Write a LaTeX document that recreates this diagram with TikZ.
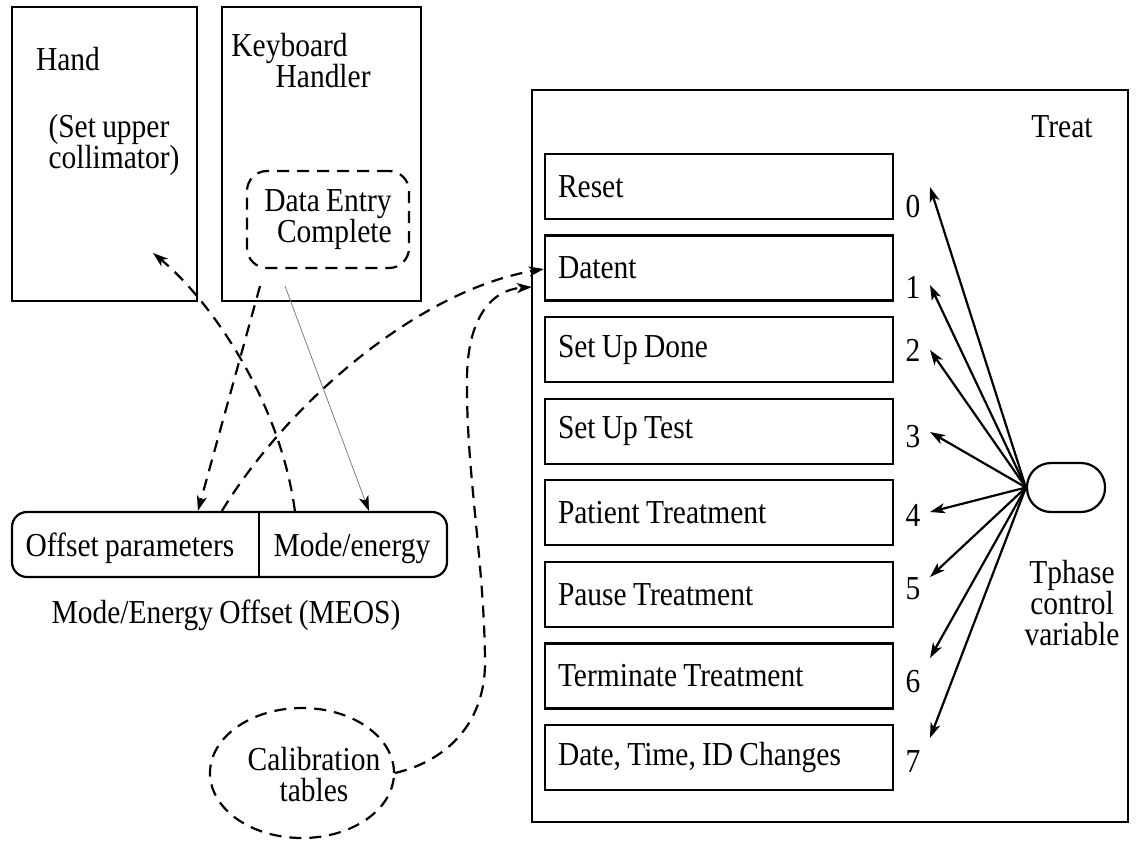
\documentclass[tikz,border=0pt]{standalone}
\usepackage{fontspec}
\setmainfont{Liberation Serif}[FakeStretch=0.88, WordSpace={0.85,0,0}]
\usetikzlibrary{shapes.geometric,arrows.meta}
\newcommand{\itemtext}[1]{\makebox[322pt][l]{#1}}

\begin{document}
\begin{tikzpicture}[x=1pt, y=1pt, line width=2.2pt, >={Stealth[length=15pt,width=10pt,inset=4pt]},
	every node/.style={inner sep=0pt, font=\fontsize{33.5}{31}\selectfont},
	dashline/.style={dashed, dash pattern=on 12pt off 8pt},
	itembox/.style={draw, minimum width=348, minimum height=65, inner xsep=13pt}]
	\useasboundingbox (0,0) rectangle (1139,-840);

	\node (hand) at (104.5,-154) [draw, minimum width=185, minimum height=294] {};
	\node (handlbl) at (68,-59) {Hand};
	\node (handnote) at (114,-145) [align=left] {(Set upper\\collimator)};
	\coordinate (handtip) at (153,-253);

	\node (kbd) at (321.5,-154) [draw, minimum width=199, minimum height=294] {};
	\node (kbdlbl) at (301,-61) [align=left] {Keyboard\\\hspace*{1.32em}Handler};
	\node (dataent) at (328,-219.5) [draw, dashline, rounded corners=20, minimum width=162, minimum height=97, align=right] {Data Entry\\Complete};

	\node (meos) at (229.5,-544.5) [draw, rounded corners=15, minimum width=435, minimum height=65] {};
	\coordinate (split) at (259,-512);
	\draw (split) -- (split |- meos.south);
	\node (offsetpar) at (130,-548) {Offset parameters};
	\node (modeen) at (352,-548) {Mode/energy};
	\node (meoslbl) at (226,-615) {Mode/Energy Offset (MEOS)};

	\node (calib) at (302,-773) [draw, dashline, ellipse, minimum width=184, minimum height=130] {};
	\node (caliblbl) at (314,-775) [align=center] {Calibration\\tables};

	\node (treat) at (830,-456) [draw, minimum width=596, minimum height=732] {};
	\node (treatlbl) at (1062,-127) {Treat};

	\node (reset) at (719,-186.5) [itembox] {\itemtext{Reset}};
	\node (datent) at (719,-268) [itembox] {\itemtext{Datent}};
	\node (setupdone) at (719,-349.6) [itembox] {\itemtext{Set Up Done}};
	\node (setuptest) at (719,-431.2) [itembox] {\itemtext{Set Up Test}};
	\node (patient) at (719,-512.8) [itembox] {\itemtext{Patient Treatment}};
	\node (pause) at (719,-594.4) [itembox] {\itemtext{Pause Treatment}};
	\node (terminate) at (719,-675.9) [itembox] {\itemtext{Terminate Treatment}};
	\node (datetime) at (719,-757.5) [itembox] {\itemtext{Date, Time, ID Changes}};

	\node (n0) at (913,-207) {0};
	\node (n1) at (913,-287) {1};
	\node (n2) at (913,-350) {2};
	\node (n3) at (913,-437) {3};
	\node (n4) at (913,-515) {4};
	\node (n5) at (913,-589) {5};
	\node (n6) at (913,-682) {6};
	\node (n7) at (913,-762) {7};
	\coordinate (t0) at (930,-187);
	\coordinate (t1) at (930,-285);
	\coordinate (t2) at (930,-350);
	\coordinate (t3) at (930,-432);
	\coordinate (t4) at (930,-512);
	\coordinate (t5) at (930,-577);
	\coordinate (t6) at (930,-658);
	\coordinate (t7) at (930,-738);

	\node (tphase) at (1066,-487.5) [draw, rounded corners=24, minimum width=78, minimum height=49] {};
	\node (tphaselbl) at (1072,-603) [align=center] {Tphase\\control\\variable};

	% phase variable selects the treat subroutine
	\draw[->] (tphase.west) -- (t0);
	\draw[->] (tphase.west) -- (t1);
	\draw[->] (tphase.west) -- (t2);
	\draw[->] (tphase.west) -- (t3);
	\draw[->] (tphase.west) -- (t4);
	\draw[->] (tphase.west) -- (t5);
	\draw[->] (tphase.west) -- (t6);
	\draw[->] (tphase.west) -- (t7);

	% shared variables
	\draw[->, dashline] ([xshift=-68pt,yshift=-17pt]dataent.south) -- ([xshift=187pt]meos.north west);
	\draw[-{Stealth[black,length=15pt,width=10pt,inset=4pt]}, gray, line width=0.8pt] ([xshift=-43pt,yshift=-17pt]dataent.south) -- ([xshift=358pt]meos.north west);
	\draw[->, dashline] ([xshift=284pt]meos.north west) .. controls (280,-400) and (210,-300) .. (handtip);
	\draw[->, dashline] ([xshift=211pt]meos.north west) .. controls (290,-400) and (420,-290) .. ([yshift=-1pt]datent.west);
	\draw[->, dashline] (calib.east) .. controls (450,-760) and (486,-720) .. (485,-660) .. controls (484,-560) and (466,-470) .. (467,-380) .. controls (467,-320) and (490,-290) .. ([xshift=-12pt,yshift=-19pt]datent.west);
\end{tikzpicture}
\end{document}
